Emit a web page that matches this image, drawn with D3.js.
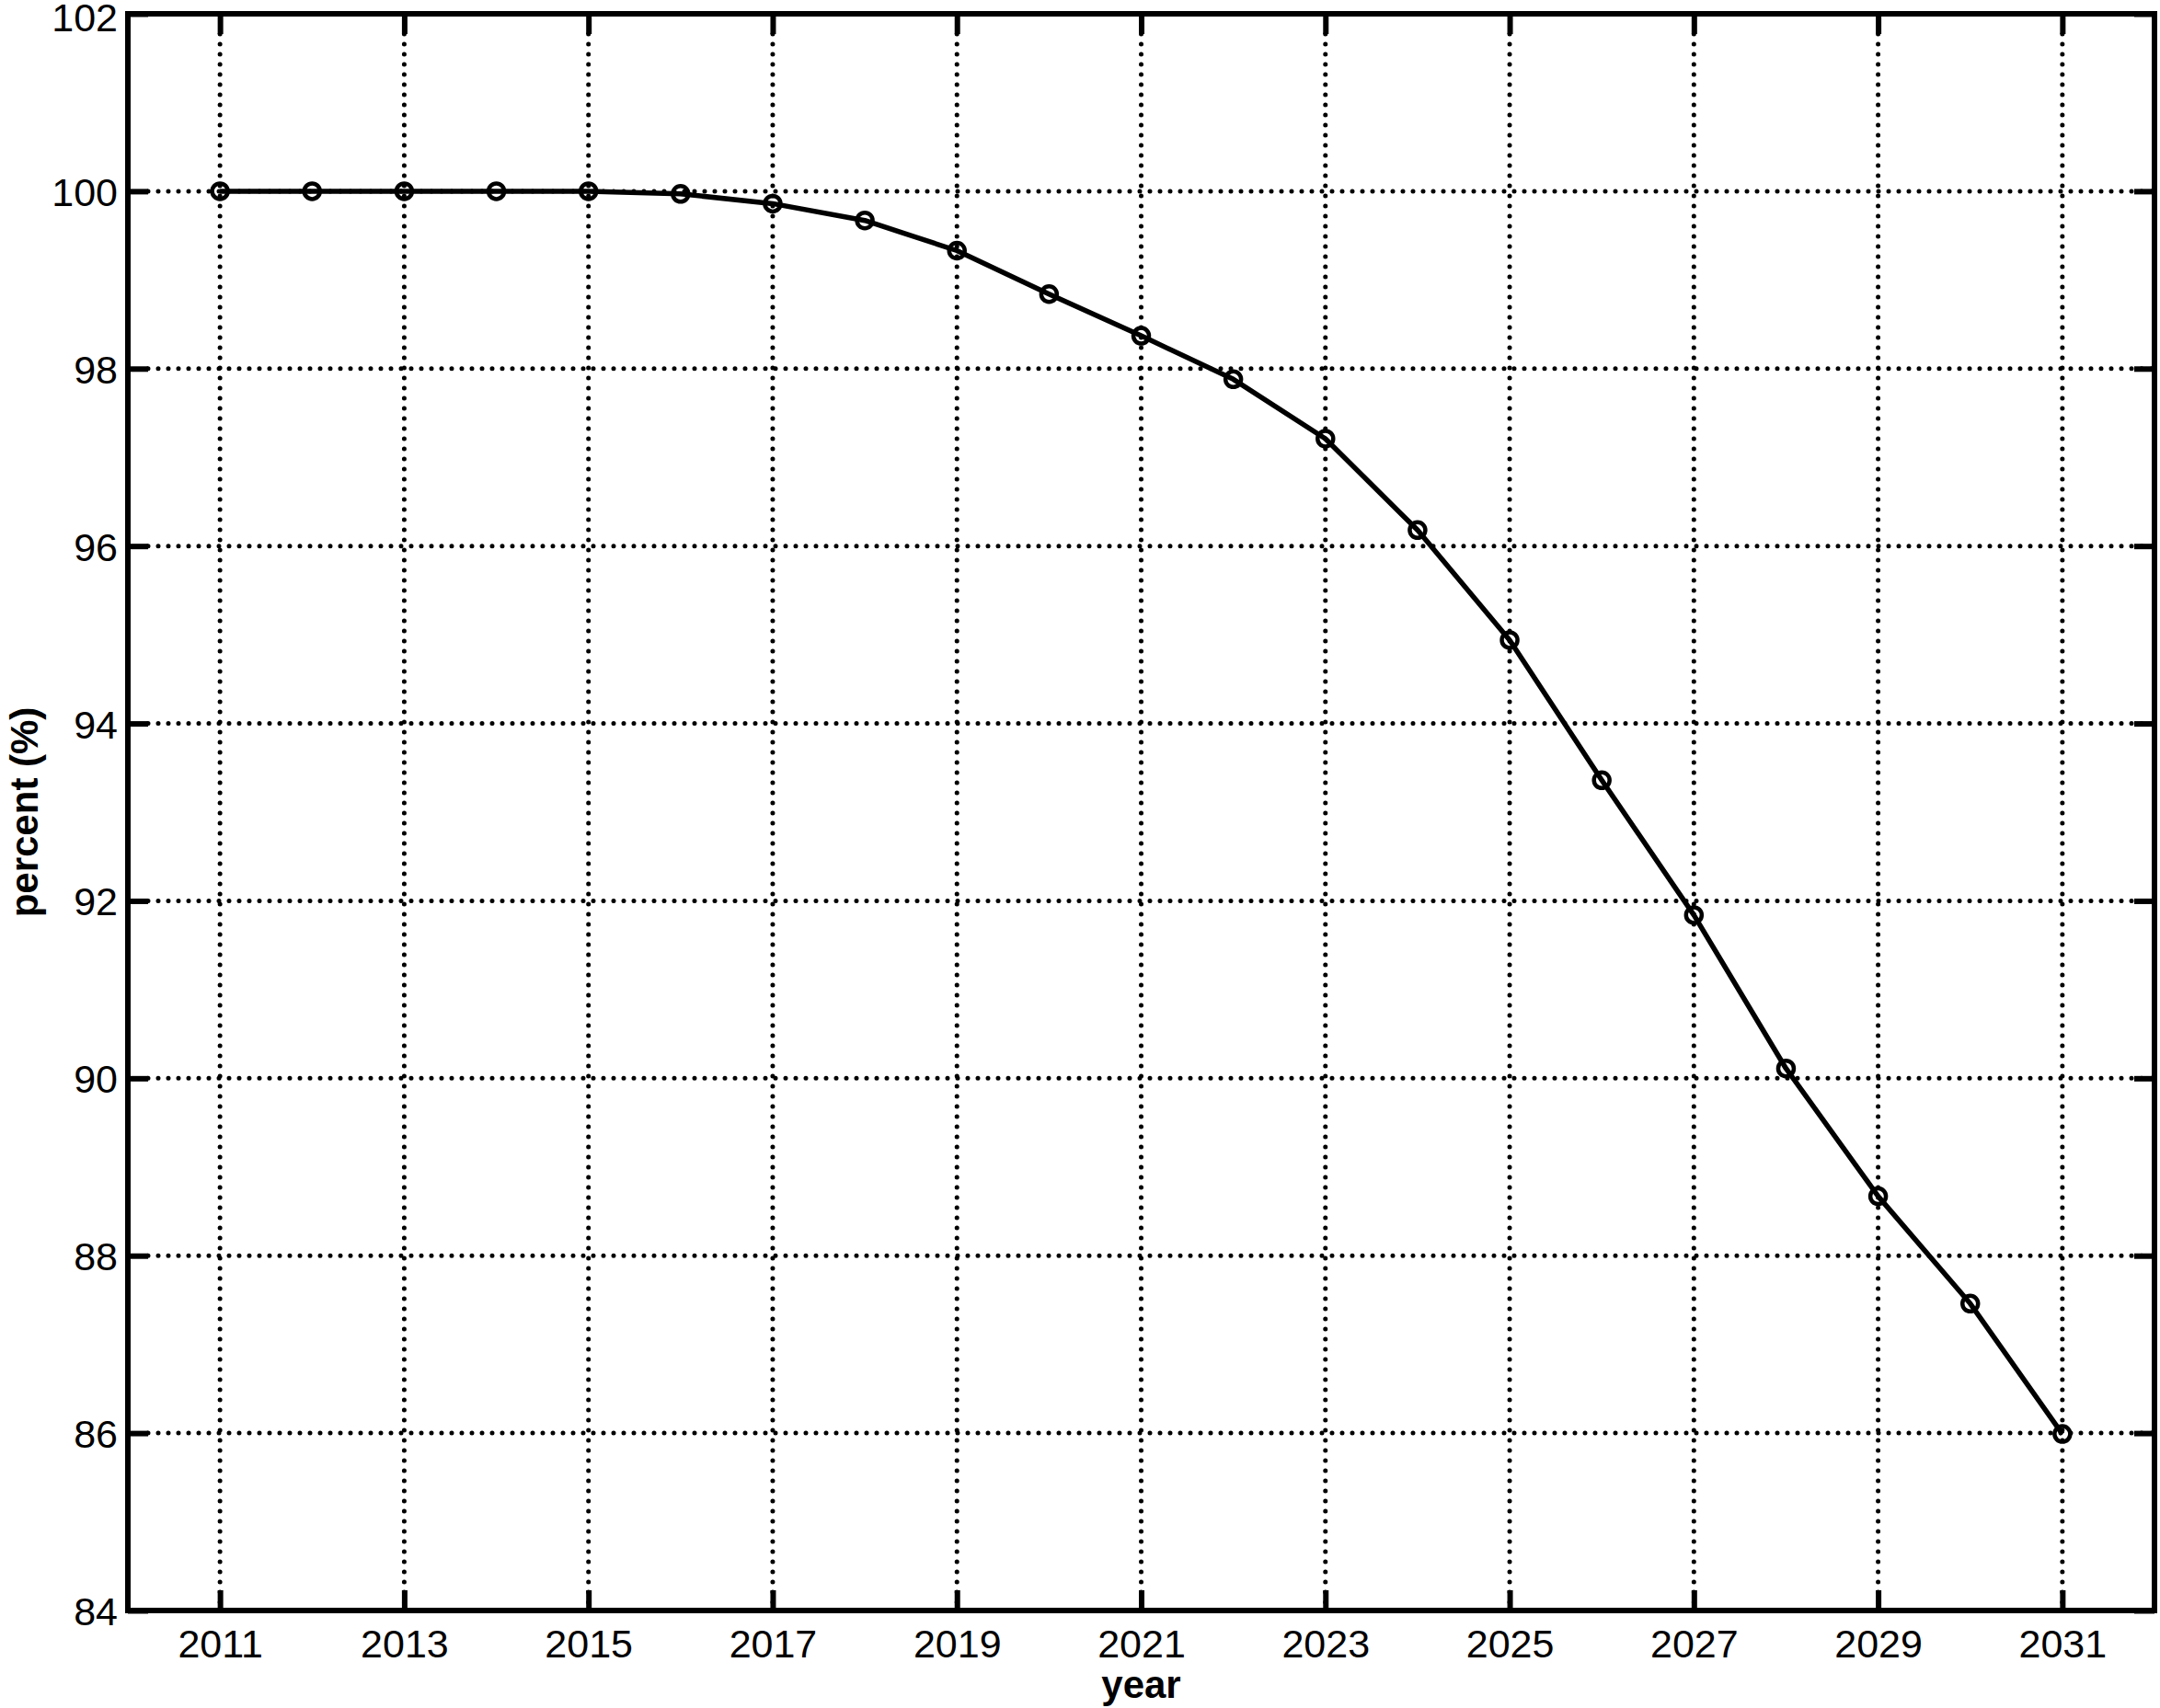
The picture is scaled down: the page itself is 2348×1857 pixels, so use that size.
<!DOCTYPE html>
<html><head><meta charset="utf-8">
<script src="https://cdn.jsdelivr.net/npm/d3@7"></script>
<style>body{margin:0;background:#fff}svg{display:block}</style>
</head><body>
<script>
const years = [2011,2012,2013,2014,2015,2016,2017,2018,2019,2020,2021,2022,2023,2024,2025,2026,2027,2028,2029,2030,2031];
const percent = [100,100,100,100,100,99.97,99.86,99.67,99.33,98.84,98.37,97.88,97.21,96.18,94.94,93.36,91.84,90.11,88.67,87.46,85.99];
const xTicks = [2011,2013,2015,2017,2019,2021,2023,2025,2027,2029,2031];
const xGrid = [2011,2013,2015,2017,2019,2021,2023,2025,2027,2029,2031];
const yTicks = [84,86,88,90,92,94,96,98,100,102];
const xLabel = "year", yLabel = "percent (%)";

const W=2348,H=1857;
const L=139,R=2342,T=15,B=1751;
const svg=d3.select("body").append("svg").attr("width",W).attr("height",H);
const x=d3.scaleLinear().domain([2010,2032]).range([L,R]);
const y=d3.scaleLinear().domain([84,102]).range([B,T]);
const font="'Liberation Sans', Arial, Helvetica, sans-serif";

// grid
const g=svg.append("g");
g.selectAll("line.gx").data(xGrid).join("line").attr("class","gx")
 .attr("x1",d=>x(d)).attr("x2",d=>x(d)).attr("y1",T+22).attr("y2",B)
 .attr("stroke","#000").attr("stroke-width",5).attr("stroke-linecap","round").attr("stroke-dasharray","0,11");
g.selectAll("line.gy").data(yTicks.filter(d=>d>84&&d<102)).join("line").attr("class","gy")
 .attr("y1",d=>y(d)).attr("y2",d=>y(d)).attr("x1",L+22).attr("x2",R)
 .attr("stroke","#000").attr("stroke-width",5).attr("stroke-linecap","round").attr("stroke-dasharray","0,11");

// axes with inward ticks
const tl=22;
const axB=svg.append("g").attr("transform",`translate(0,${B})`).call(d3.axisBottom(x).tickValues(xTicks).tickFormat(d3.format("d")).tickSizeInner(-tl).tickSizeOuter(0).tickPadding(20));
const axT=svg.append("g").attr("transform",`translate(0,${T})`).call(d3.axisTop(x).tickValues(xTicks).tickFormat("").tickSizeInner(-tl).tickSizeOuter(0));
const axL=svg.append("g").attr("transform",`translate(${L},0)`).call(d3.axisLeft(y).tickValues(yTicks).tickFormat(d3.format("d")).tickSizeInner(-tl).tickSizeOuter(0).tickPadding(11));
const axR=svg.append("g").attr("transform",`translate(${R},0)`).call(d3.axisRight(y).tickValues(yTicks).tickFormat("").tickSizeInner(-tl).tickSizeOuter(0));
[axB,axT,axL,axR].forEach(a=>{
  a.select(".domain").remove();
  a.selectAll(".tick line").attr("stroke","#000").attr("stroke-width",6);
  a.selectAll("text").attr("font-family",font).attr("font-size",43).attr("fill","#000");
});
axL.selectAll("text").attr("dy","0.36em");
axL.selectAll(".tick").filter(d=>d===102).select("text").attr("dy","0.42em");

// box
svg.append("rect").attr("x",L).attr("y",T).attr("width",R-L).attr("height",B-T)
 .attr("fill","none").attr("stroke","#000").attr("stroke-width",6);

// line
const line=d3.line().x((d,i)=>x(years[i])).y(d=>y(d));
svg.append("path").datum(percent).attr("d",line).attr("fill","none").attr("stroke","#000").attr("stroke-width",5.5).attr("stroke-linejoin","round");
svg.selectAll("circle.m").data(percent).join("circle").attr("class","m")
 .attr("cx",(d,i)=>x(years[i])).attr("cy",d=>y(d)).attr("r",8.5)
 .attr("fill","none").attr("stroke","#000").attr("stroke-width",4.5);

// labels
svg.append("text").attr("x",(L+R)/2).attr("y",1846).attr("text-anchor","middle")
 .attr("font-family",font).attr("font-weight","bold").attr("font-size",42).text(xLabel);
svg.append("text").attr("transform",`translate(41,${(T+B)/2}) rotate(-90)`).attr("text-anchor","middle")
 .attr("font-family",font).attr("font-weight","bold").attr("font-size",42).text(yLabel);
</script>
</body></html>
